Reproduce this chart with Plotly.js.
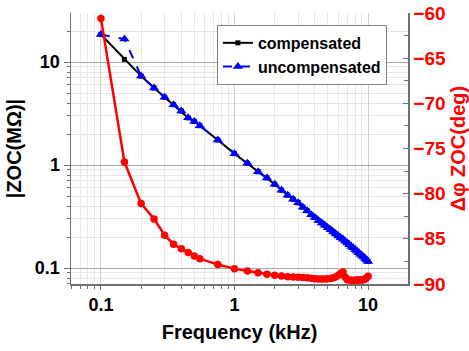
<!DOCTYPE html>
<html>
<head>
<meta charset="utf-8">
<script src="https://cdn.plot.ly/plotly-3.0.1.min.js"></script>
<style>html,body{margin:0;padding:0;background:#fff;}#chart{width:469px;height:351px;}</style>
</head>
<body>
<div id="chart"></div>
<script>
// Frequency (kHz)
var freq = [0.1,0.15,0.2,0.25,0.3,0.35,0.4,0.45,0.5,0.55,0.75,1,1.25,
  1.5,1.75,2,2.25,2.5,2.75,3,3.25,3.5,3.75,4,4.25,4.5,4.75,5,5.25,5.5,5.75,
  6,6.25,6.5,6.75,7,7.25,7.5,7.75,8,8.25,8.5,8.75,9,9.25,9.5,9.75,10];

// |Z_OC| (MOhm), compensated
var zComp = [18.5,10.6,7.3,5.6,4.55,3.85,3.35,2.87,2.65,2.41,1.75,1.29,1.04,
  0.86,0.75,0.65,0.57,0.51,0.465,0.43,0.39,0.36,0.33,0.31,0.29,0.274,0.26,0.246,0.235,0.224,0.214,
  0.205,0.197,0.19,0.182,0.175,0.168,0.162,0.157,0.151,0.146,0.141,0.136,0.132,0.128,0.124,0.12,0.116];

// |Z_OC| (MOhm), uncompensated
var zUncomp = [18.5,16.7,7.3,5.6,4.55,3.85,3.35,2.87,2.65,2.41,1.75,1.29,1.04,
  0.86,0.75,0.65,0.57,0.51,0.465,0.43,0.39,0.36,0.33,0.31,0.29,0.274,0.26,0.246,0.235,0.224,0.214,
  0.205,0.197,0.19,0.182,0.175,0.168,0.162,0.157,0.151,0.146,0.141,0.136,0.132,0.128,0.124,0.12,0.116];

// phase difference (deg)
var phase = [-60.6,-76.5,-81.1,-82.8,-84.6,-85.6,-86.1,-86.5,-86.9,-87.2,-87.85,-88.3,-88.55,
  -88.75,-88.93,-89.04,-89.12,-89.19,-89.23,-89.26,-89.28,-89.3,-89.37,-89.42,-89.45,-89.46,-89.45,-89.42,-89.38,-89.3,-89.2,
  -89.02,-88.82,-88.68,-89.25,-89.52,-89.56,-89.58,-89.58,-89.58,-89.57,-89.57,-89.56,-89.55,-89.52,-89.45,-89.32,-89.15];

var seriesNames = ['compensated','uncompensated'];
var leftTitle = '|ZOC(MΩ)|';
var rightTitle = 'Δφ ZOC(deg)';
var xTitle = 'Frequency (kHz)';

var FONT = 'Arial, "Liberation Sans", sans-serif';

var traces = [
  {x: freq, y: phase, yaxis: 'y2', type: 'scatter', mode: 'lines+markers',
   line: {color: '#ff0000', width: 2.5}, marker: {color: '#ff0000', size: 7.5, symbol: 'circle'},
   showlegend: false},
  {x: freq, y: zComp, type: 'scatter', mode: 'lines+markers', name: seriesNames[0],
   line: {color: '#000000', width: 2}, marker: {color: '#000000', size: 5, symbol: 'square'}},
  {x: freq, y: zUncomp, type: 'scatter', mode: 'lines+markers', name: seriesNames[1],
   line: {color: '#0000ff', width: 2, dash: 'dash'}, marker: {color: '#0000ff', size: 9, symbol: 'triangle-up'}}
];

var layout = {
  width: 469, height: 351,
  margin: {l: 71, r: 61, t: 13, b: 67},
  paper_bgcolor: '#ffffff', plot_bgcolor: '#ffffff',
  font: {family: FONT, color: '#000'},
  showlegend: true,
  legend: {x: 0.433, y: 0.956, xanchor: 'left', yanchor: 'top',
    bgcolor: '#ffffff', bordercolor: '#808080', borderwidth: 1,
    font: {family: FONT, size: 16, weight: 'bold', color: '#000'},
    tracegroupgap: 0, itemwidth: 30},
  xaxis: {
    type: 'log', range: [Math.log10(0.0597), Math.log10(19.9)],
    tickvals: [0.1, 1, 10], ticktext: ['0.1','1','10'],
    ticks: 'outside', ticklen: 4, tickcolor: '#707070',
    showline: true, linecolor: '#707070', linewidth: 1.5,
    showgrid: true, gridcolor: '#cfcfcf', gridwidth: 1,
    zeroline: false,
    minor: {dtick: 'D1', ticks: 'outside', ticklen: 3, tickcolor: '#707070', showgrid: true, gridcolor: '#e8e8e8'},
    tickfont: {family: FONT, size: 18, weight: 'bold', color: '#000'},
    title: {text: xTitle, font: {family: FONT, size: 20, weight: 'bold', color: '#000'}, standoff: 11},
    automargin: false
  },
  yaxis: {
    type: 'log', range: [-1.155, 1.476],
    tickvals: [0.1, 1, 10], ticktext: ['0.1','1','10'],
    ticks: 'outside', ticklen: 6, tickcolor: '#707070',
    showline: true, linecolor: '#707070', linewidth: 1.5,
    showgrid: true, gridcolor: '#a8a8a8', gridwidth: 1,
    zeroline: false,
    minor: {dtick: 'D1', ticks: 'outside', ticklen: 3, tickcolor: '#707070', showgrid: true, gridcolor: '#e4e4e4'},
    tickfont: {family: FONT, size: 18, weight: 'bold', color: '#000'},
    title: {text: leftTitle, font: {family: FONT, size: 20, weight: 'bold', color: '#000'}, standoff: 8},
    automargin: false
  },
  yaxis2: {
    overlaying: 'y', side: 'right', range: [-90, -60],
    dtick: 5, tick0: -90,
    ticks: 'inside', ticklen: 5, tickcolor: '#707070',
    showline: true, linecolor: '#707070', linewidth: 1.5,
    showgrid: false, zeroline: false,
    minor: {dtick: 2.5, ticks: 'inside', ticklen: 4, tickcolor: '#707070', showgrid: false},
    tickfont: {family: FONT, size: 19, weight: 'bold', color: '#ff0000'},
    title: {text: rightTitle, font: {family: FONT, size: 20, weight: 'bold', color: '#ff0000'}, standoff: 8},
    automargin: false
  }
};

Plotly.newPlot('chart', traces, layout, {displayModeBar: false, staticPlot: true});
</script>
</body>
</html>
